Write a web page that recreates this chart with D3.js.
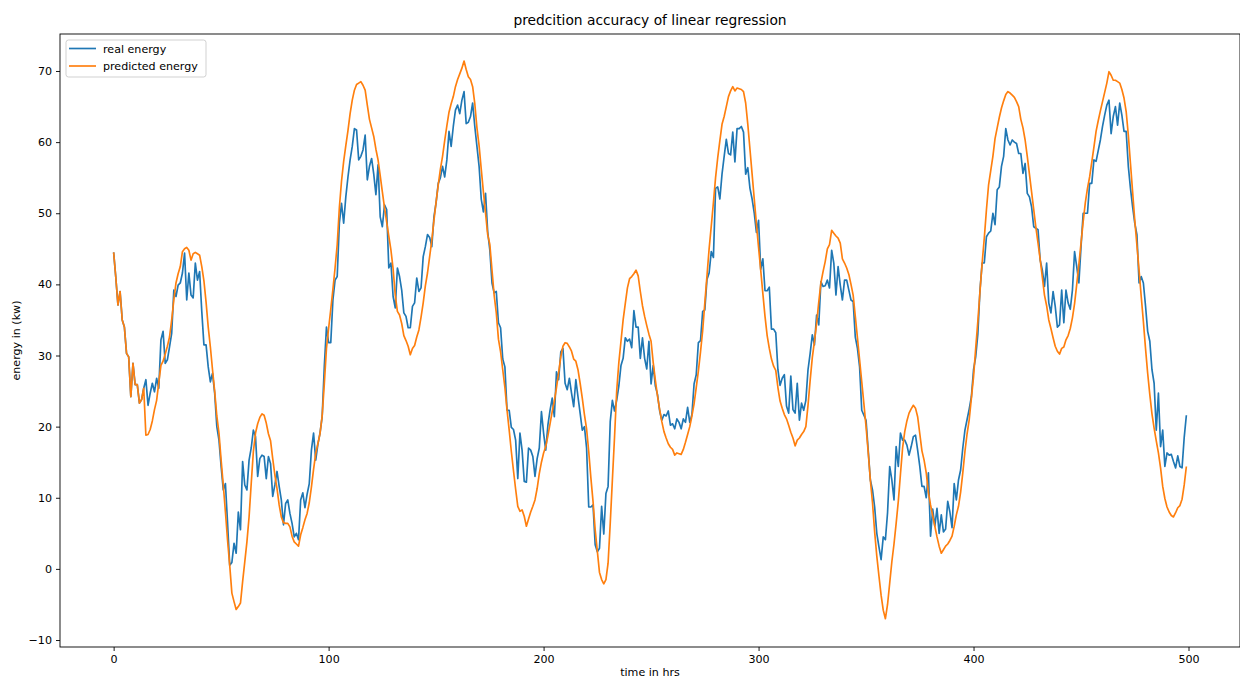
<!DOCTYPE html>
<html><head><meta charset="utf-8">
<script src="https://cdn.jsdelivr.net/npm/d3@7"></script>
<style>body{margin:0;background:#fff;} svg{display:block;font-family:"DejaVu Sans",sans-serif;}</style>
</head><body><svg id="c" width="1240" height="680"></svg>
<script>
const realEnergy = [
44.5,41.0,37.1,39.0,35.0,34.0,30.3,29.8,24.2,28.9,
25.9,25.9,23.3,23.8,25.4,26.6,23.0,24.7,26.1,24.9,
26.8,25.4,32.2,33.4,28.9,29.4,31.2,33.1,39.2,38.3,
39.9,40.2,41.6,44.4,37.8,41.6,38.5,38.1,43.0,40.6,
41.8,36.2,31.5,31.5,28.4,26.3,27.5,24.7,20.0,18.1,
14.4,11.1,12.0,6.4,0.5,0.9,3.6,2.2,8.0,5.5,
15.1,11.8,11.1,15.3,17.0,19.5,18.6,13.0,15.5,16.0,
15.8,12.7,15.8,14.8,10.2,11.8,13.7,11.6,9.7,6.2,
9.2,9.7,7.8,6.4,4.5,5.0,4.1,9.7,10.7,8.6,
10.5,12.0,16.7,19.1,15.3,17.5,19.1,21.4,28.5,34.0,
31.8,31.8,37.8,40.6,41.1,48.6,51.4,48.6,52.3,55.1,
57.5,59.4,61.9,61.7,57.5,58.0,58.9,61.0,54.7,56.6,
57.7,55.5,52.6,56.8,49.5,48.1,51.2,50.5,42.3,43.0,
38.3,36.7,42.3,41.1,39.2,36.0,35.5,33.9,33.9,36.9,
37.4,40.9,39.0,39.5,43.9,45.3,47.0,46.6,45.3,49.5,
51.5,54.2,55.0,56.6,55.1,57.5,61.5,59.4,62.2,64.5,
65.2,64.0,65.9,67.1,62.6,62.8,63.6,65.5,62.2,59.4,
56.6,52.0,50.2,52.8,47.4,44.8,40.2,38.8,39.0,34.6,
33.9,29.5,28.4,22.3,22.3,19.9,19.6,18.1,12.7,19.1,
16.7,12.3,12.2,17.0,16.7,15.8,13.0,15.5,17.0,22.1,
19.1,16.7,20.2,22.3,24.0,21.4,27.7,26.6,30.5,31.0,
26.1,25.2,26.8,24.7,22.8,26.6,24.2,21.9,19.5,20.0,
17.0,8.7,8.7,9.0,3.4,2.4,2.9,8.8,4.9,10.6,
11.6,20.7,23.7,22.2,23.7,25.7,28.6,29.6,32.5,32.0,
32.3,31.1,36.3,34.0,34.0,29.6,32.5,29.6,28.1,32.0,
26.0,28.6,25.7,24.5,22.2,20.9,21.7,21.5,22.2,20.2,
20.4,19.7,21.1,20.6,19.7,21.1,20.6,22.7,20.6,21.7,
26.0,27.3,31.8,32.1,36.2,36.4,40.7,41.6,44.6,43.8,
53.5,53.7,52.0,55.5,58.0,60.4,58.4,58.2,61.4,57.2,
61.9,61.9,62.2,61.4,55.5,56.4,53.5,52.0,50.0,47.3,
49.0,42.1,43.6,39.1,39.1,39.6,33.7,33.7,33.2,28.0,
25.8,26.8,27.3,22.9,21.9,27.1,22.4,21.9,26.1,20.9,
23.3,22.3,23.7,28.0,30.3,32.9,31.5,35.7,34.3,40.4,
39.7,39.8,40.6,39.5,44.8,43.0,38.5,42.5,39.9,37.8,
40.6,40.6,39.2,37.8,37.6,32.6,31.0,28.4,22.3,21.6,
20.9,16.7,12.5,11.1,8.7,5.0,3.1,1.3,4.5,4.1,
7.9,14.4,12.5,9.7,17.2,14.4,19.1,18.1,18.1,17.4,
16.0,17.2,18.6,18.8,16.7,14.4,11.6,11.6,10.0,13.5,
4.6,8.4,6.0,8.5,5.0,7.6,5.2,5.6,9.5,8.0,
5.8,12.0,9.7,12.5,13.9,17.0,19.5,21.0,22.5,24.2,
28.0,29.8,33.0,39.2,43.0,43.0,46.7,47.2,47.5,50.0,
48.4,53.3,53.7,56.6,58.0,61.9,60.3,59.6,60.3,60.0,
59.8,58.4,58.4,55.6,57.0,52.8,52.3,50.9,48.1,47.9,
47.7,43.4,42.0,39.7,43.0,37.4,36.0,39.0,36.9,34.0,
34.3,39.2,34.6,39.2,37.4,36.5,39.2,44.6,42.5,40.2,
45.3,50.0,50.0,50.0,54.2,54.2,57.5,57.3,58.8,60.3,
62.2,63.8,65.2,65.9,61.2,63.6,65.0,62.4,65.5,63.8,
61.5,61.5,56.6,53.5,50.9,48.6,47.0,40.2,41.1,40.2,
37.0,33.4,32.0,28.0,26.1,19.5,24.7,17.2,19.5,14.4,
16.3,16.0,16.1,15.1,14.2,15.9,14.4,14.2,18.5,21.6
];
const predictedEnergy = [
44.5,41.0,37.1,39.0,35.0,34.0,30.3,29.8,24.2,28.9,
25.9,25.9,23.3,23.8,25.4,18.8,18.9,19.6,20.8,22.4,
23.7,26.2,28.6,29.2,30.2,31.3,32.6,35.0,37.8,40.2,
41.5,42.5,44.6,45.0,45.2,44.8,43.4,44.3,44.5,44.3,
44.1,42.5,40.5,37.5,34.0,31.2,28.0,25.0,21.5,19.1,
15.3,11.8,8.0,4.0,0.5,-3.4,-4.6,-5.7,-5.3,-4.8,
-1.8,1.0,3.8,7.3,12.0,16.5,19.1,20.4,21.3,21.8,
21.6,20.5,19.0,18.0,15.5,13.2,11.3,9.0,7.3,6.5,
6.4,6.4,5.9,4.6,3.8,3.5,3.2,4.8,5.8,6.9,
7.8,9.3,11.5,14.0,16.2,17.6,19.0,21.5,26.0,31.0,
33.8,36.5,39.3,42.3,45.6,50.8,54.5,57.3,59.5,61.6,
64.0,65.9,67.3,68.1,68.3,68.5,68.0,67.3,65.2,63.2,
62.0,60.8,59.0,57.5,55.3,53.0,50.8,48.8,46.8,44.8,
42.2,38.5,36.2,35.7,34.5,32.8,32.1,31.3,30.1,31.0,
31.4,32.6,33.6,35.4,37.4,39.8,41.6,43.9,46.2,49.0,
51.6,54.0,56.2,58.0,60.2,62.3,64.2,65.4,66.4,67.8,
68.8,69.6,70.4,71.4,70.2,69.2,68.8,67.8,65.4,62.0,
59.5,56.2,53.0,50.0,47.0,45.6,42.0,38.5,36.0,32.3,
30.5,28.0,25.5,22.3,19.5,16.5,13.8,11.2,8.8,8.1,
8.3,7.4,6.0,7.0,8.0,8.8,9.7,11.3,13.4,15.0,
16.3,17.2,18.7,20.4,22.1,23.6,25.5,27.6,29.8,31.3,
31.8,31.7,31.2,30.6,29.5,29.2,28.0,26.1,24.0,21.7,
19.7,16.5,12.8,9.5,5.5,2.5,-0.5,-1.5,-2.1,-1.5,
0.8,6.4,12.5,18.5,25.0,29.0,32.0,35.0,37.3,39.5,
40.8,41.1,41.5,42.0,41.2,39.0,37.0,35.5,34.2,33.0,
32.0,29.0,26.5,24.3,22.4,20.7,19.3,18.4,17.6,17.1,
16.8,16.0,16.3,16.2,16.1,16.8,17.8,18.9,20.0,21.5,
23.2,25.5,27.8,30.5,33.5,37.4,41.2,45.0,48.2,51.5,
55.0,57.8,60.2,62.5,63.6,65.0,66.4,67.2,67.8,67.2,
67.6,67.5,67.4,67.1,65.5,62.5,59.0,55.5,52.0,48.5,
45.2,42.0,38.7,35.5,32.8,31.0,29.5,28.5,27.9,25.5,
23.6,22.6,21.7,21.1,20.2,19.2,18.4,17.3,18.1,18.4,
18.9,19.3,20.0,23.0,26.5,29.7,32.0,34.5,37.5,40.2,
41.8,43.2,45.0,45.6,47.6,47.2,46.8,46.5,45.8,43.6,
43.0,42.3,41.4,40.0,38.5,35.5,32.5,29.4,26.3,23.2,
20.0,16.4,12.5,9.3,5.2,1.8,-1.0,-3.7,-5.8,-7.0,
-5.0,-2.0,1.0,3.5,6.4,9.5,13.3,17.0,19.3,20.8,
21.9,22.5,23.0,22.6,21.4,19.0,16.6,15.3,13.5,10.8,
9.0,7.5,6.0,4.5,3.2,2.2,2.7,3.2,3.5,4.0,
4.6,6.0,7.6,8.8,10.8,13.5,16.5,19.0,21.0,24.0,
27.0,31.0,34.8,39.0,43.0,46.5,50.5,54.0,56.0,58.0,
60.5,62.0,63.5,64.8,65.8,66.7,67.1,66.9,66.6,66.3,
65.7,65.0,63.2,62.0,60.3,58.0,55.5,53.0,50.5,48.0,
45.8,43.5,41.0,38.5,37.0,35.0,33.8,32.5,31.3,30.6,
30.2,31.0,31.2,32.2,32.8,33.8,35.3,37.3,40.0,42.8,
45.8,48.8,51.5,53.5,55.1,57.2,59.3,61.5,63.0,64.4,
65.7,67.0,68.3,69.9,69.4,68.7,68.7,68.5,68.3,67.4,
66.2,64.3,61.0,57.0,53.0,49.0,45.5,42.0,38.3,34.8,
31.0,27.5,24.5,21.8,19.8,18.0,16.3,14.2,11.6,9.9,
8.7,8.0,7.5,7.3,7.9,8.6,8.9,9.8,11.8,14.4
];
const xTicks = [0, 100, 200, 300, 400, 500];
const yTicks = [-10, 0, 10, 20, 30, 40, 50, 60, 70];
const seriesNames = ["real energy", "predicted energy"];
const seriesColors = ["#1f77b4", "#ff7f0e"];
const titleText = "predcition accuracy of linear regression";
const xLabelText = "time in hrs";
const yLabelText = "energy in (kw)";

const svg = d3.select("#c");
const L = 60, R = 1240, T = 34, B = 647;
const x = d3.scaleLinear().domain([-24.95, 523.95]).range([L, R]);
const y = d3.scaleLinear().domain([-10.98, 75.2]).range([B, T]);

svg.append("rect").attr("width", 1240).attr("height", 680).attr("fill", "#fff");
svg.append("defs").append("clipPath").attr("id", "clip")
  .append("rect").attr("x", L).attr("y", T).attr("width", R - L).attr("height", B - T);

const series = [realEnergy, predictedEnergy];
const line = d3.line().x((d, i) => x(i)).y(d => y(d));
const g = svg.append("g").attr("clip-path", "url(#clip)");
series.forEach((s, k) => {
  g.append("path").datum(s).attr("d", line).attr("fill", "none")
    .attr("stroke", seriesColors[k]).attr("stroke-width", 1.67)
    .attr("stroke-linejoin", "round").attr("stroke-linecap", "butt");
});

const xAxis = svg.append("g").attr("transform", `translate(0,${B})`)
  .call(d3.axisBottom(x).tickValues(xTicks).tickFormat(d3.format("d")).tickSizeOuter(0).tickSize(4).tickPadding(4));
const yAxis = svg.append("g").attr("transform", `translate(${L},0)`)
  .call(d3.axisLeft(y).tickValues(yTicks).tickFormat(d => d < 0 ? "\u2212" + Math.abs(d) : d).tickSizeOuter(0).tickSize(4).tickPadding(4));
[xAxis, yAxis].forEach(a => {
  a.select(".domain").remove();
  a.selectAll("text").attr("font-size", 11.1).attr("fill", "#000").attr("font-family", "DejaVu Sans");
  a.selectAll("line").attr("stroke", "#000").attr("stroke-width", 0.9);
});

svg.append("rect").attr("x", L).attr("y", T).attr("width", R - L).attr("height", B - T)
  .attr("fill", "none").attr("stroke", "#000").attr("stroke-width", 0.9);

svg.append("text").attr("x", (L + R) / 2).attr("y", 25).attr("text-anchor", "middle")
  .attr("font-size", 13.8).text(titleText);
svg.append("text").attr("x", (L + R) / 2).attr("y", 676).attr("text-anchor", "middle")
  .attr("font-size", 11.1).text(xLabelText);
svg.append("text").attr("transform", `translate(20,${(T + B) / 2}) rotate(-90)`).attr("text-anchor", "middle")
  .attr("font-size", 11.1).text(yLabelText);

const lg = svg.append("g").attr("transform", "translate(66,40)");
lg.append("rect").attr("x", 0).attr("y", 0).attr("width", 140).attr("height", 37).attr("rx", 2.5)
  .attr("fill", "#fff").attr("fill-opacity", 0.8).attr("stroke", "#cccccc").attr("stroke-width", 0.9);
seriesNames.forEach((n, k) => {
  const yy = 8.5 + k * 17.5;
  lg.append("line").attr("x1", 3).attr("x2", 30).attr("y1", yy).attr("y2", yy)
    .attr("stroke", seriesColors[k]).attr("stroke-width", 1.67);
  lg.append("text").attr("x", 37).attr("y", yy + 4).attr("font-size", 11.1).text(n);
});
</script></body></html>
